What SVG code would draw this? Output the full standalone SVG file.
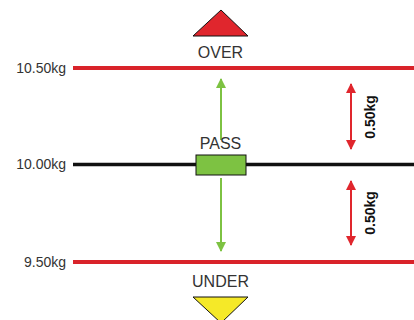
<svg xmlns="http://www.w3.org/2000/svg" width="414" height="320" viewBox="0 0 414 320">
<style>
.lbl{font-family:"Liberation Sans",Arial,sans-serif;font-size:14px;fill:#333;text-anchor:end}
.cap{font-family:"Liberation Sans",Arial,sans-serif;font-size:16px;fill:#333;text-anchor:middle}
.dim{font-family:"Liberation Sans",Arial,sans-serif;font-size:14px;font-weight:bold;fill:#111;text-anchor:middle}
.red{stroke:#d9232a;stroke-width:4}
.ga{stroke:#7dc242;stroke-width:2;fill:none}
.ra{stroke:#e0262d;stroke-width:2;fill:none}
</style>
<defs>
<marker id="gh" viewBox="0 0 10 10" refX="9" refY="5" markerWidth="5" markerHeight="5" markerUnits="strokeWidth" orient="auto"><path d="M0,0L10,5L0,10z" fill="#7dc242"/></marker>
<marker id="rh" viewBox="0 0 10 10" refX="9" refY="5" markerWidth="5" markerHeight="5" markerUnits="strokeWidth" orient="auto-start-reverse"><path d="M0,0L10,5L0,10z" fill="#e0262d"/></marker>
</defs>
<g id="over">
<polygon points="221,10 193,36 248,36" fill="#e0262d" stroke="#111" stroke-width="1"/>
<text class="cap" x="220.5" y="58">OVER</text>
</g>
<g id="lines">
<line class="red" x1="73" y1="68" x2="414" y2="68"/>
<line x1="73" y1="164.5" x2="414" y2="164.5" stroke="#111" stroke-width="3.5"/>
<line class="red" x1="73" y1="262" x2="414" y2="262"/>
</g>
<g id="labels">
<text class="lbl" x="66" y="72.5">10.50kg</text>
<text class="lbl" x="66" y="169">10.00kg</text>
<text class="lbl" x="66" y="267">9.50kg</text>
</g>
<g id="connectors">
<line class="ga" x1="221" y1="140" x2="221" y2="79" marker-end="url(#gh)"/>
<line class="ga" x1="221" y1="178" x2="221" y2="251" marker-end="url(#gh)"/>
<line class="ra" x1="351" y1="84" x2="351" y2="149" marker-start="url(#rh)" marker-end="url(#rh)"/>
<line class="ra" x1="351" y1="181" x2="351" y2="245" marker-start="url(#rh)" marker-end="url(#rh)"/>
</g>
<g id="pass">
<text class="cap" x="220.5" y="149">PASS</text>
<rect x="196" y="155" width="50" height="20" fill="#7dc242" stroke="#111" stroke-width="1"/>
</g>
<g id="dims">
<text class="dim" transform="translate(375,117) rotate(-90)">0.50kg</text>
<text class="dim" transform="translate(375,213) rotate(-90)">0.50kg</text>
</g>
<g id="under">
<text class="cap" x="220.5" y="287">UNDER</text>
<polygon points="193,297 248,297 221,323" fill="#f5e928" stroke="#111" stroke-width="1"/>
</g>
</svg>
